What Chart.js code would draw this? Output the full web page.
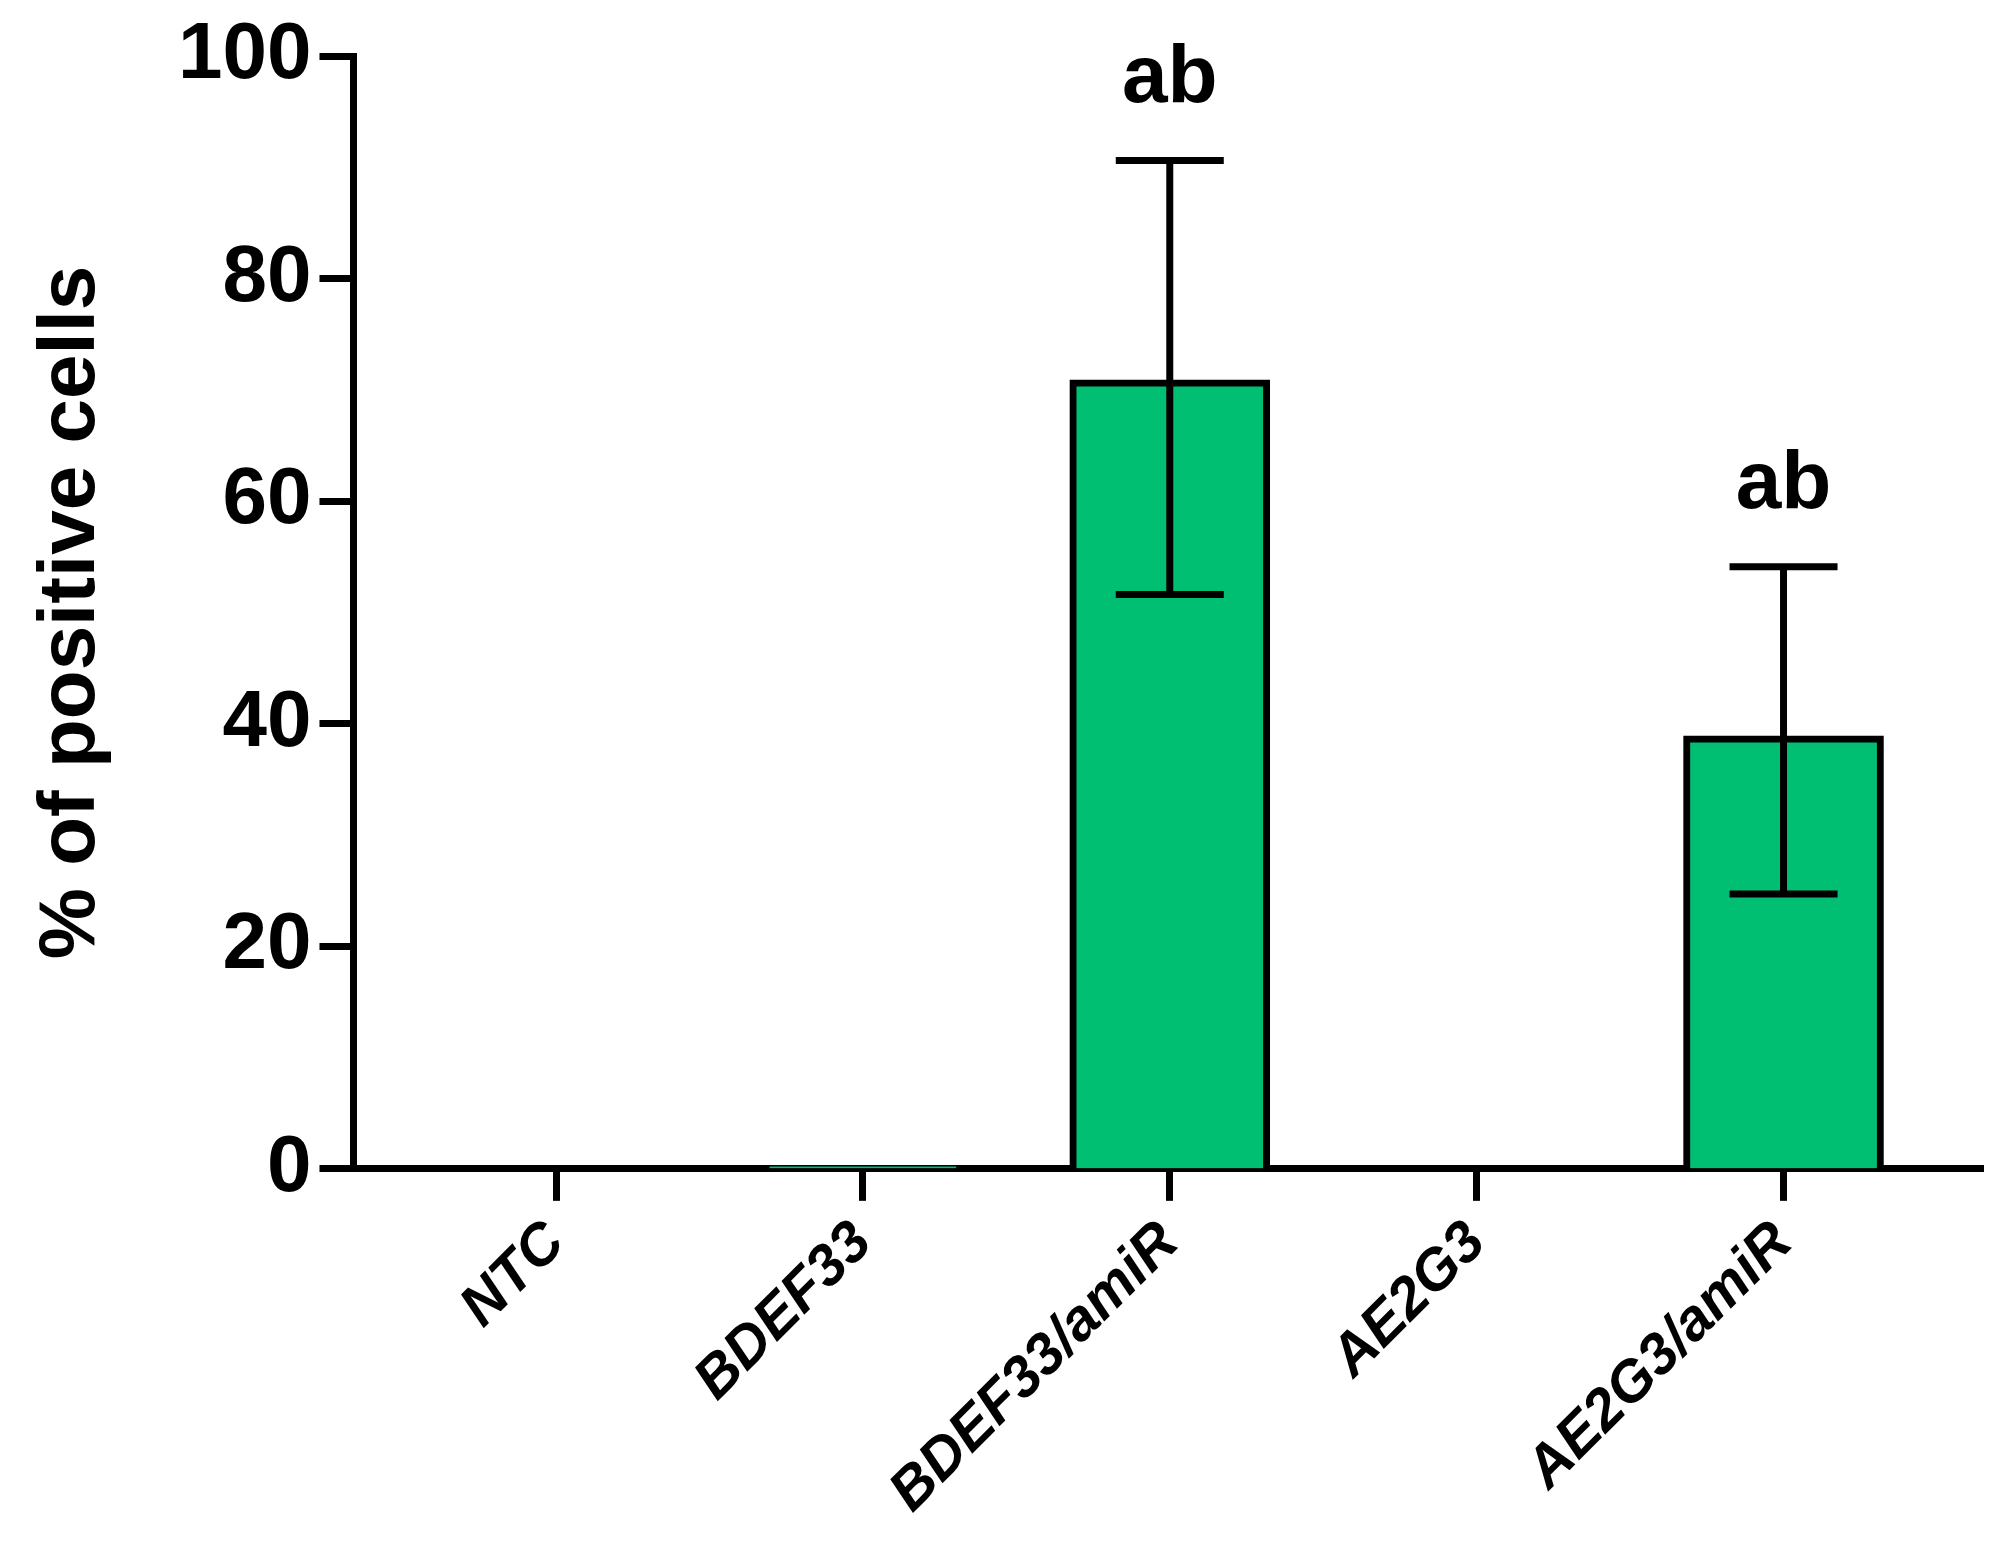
<!DOCTYPE html>
<html>
<head>
<meta charset="utf-8">
<script src="https://cdn.jsdelivr.net/npm/chart.js@4"></script>
<style>
  html, body { margin: 0; padding: 0; background: #fff; }
  #wrap { width: 2007px; height: 1545px; }
</style>
</head>
<body>
<div id="wrap"><canvas id="grafico" width="2007" height="1545"></canvas></div>
<script>
const categories = ["NTC", "BDEF33", "BDEF33/amiR", "AE2G3", "AE2G3/amiR"];
const means = [0, 0.3, 70.9, 0, 38.9];
const errHigh = [null, null, 90.6, null, 54.1];
const errLow = [null, null, 51.6, null, 24.7];
const letters = ["", "", "ab", "", "ab"];
const yTicks = [0, 20, 40, 60, 80, 100];

const fam = "'Liberation Sans Narrow', 'Liberation Sans', Arial, sans-serif";

const errorBars = {
    id: "errorBars",
    afterDatasetsDraw(chart) {
        const c = chart.ctx, xs = chart.scales.x, ys = chart.scales.y;
        c.save();
        c.strokeStyle = "#000";
        c.lineWidth = 7;
        c.fillStyle = "#000";
        c.font = "bold 82px " + fam;
        c.textAlign = "center";
        c.textBaseline = "bottom";
        categories.forEach((cat, i) => {
            if (errHigh[i] === null) return;
            const x = xs.getPixelForValue(i);
            const hi = ys.getPixelForValue(errHigh[i]);
            const lo = ys.getPixelForValue(errLow[i]);
            c.beginPath();
            c.moveTo(x, hi); c.lineTo(x, lo);
            c.moveTo(x - 54, hi); c.lineTo(x + 54, hi);
            c.moveTo(x - 54, lo); c.lineTo(x + 54, lo);
            c.stroke();
            if (letters[i]) c.fillText(letters[i], x, hi - 40);
        });
        c.restore();
    }
};

new Chart(document.getElementById("grafico").getContext("2d"), {
    type: "bar",
    data: {
        datasets: [{
            data: means.map((v, i) => ({ x: i, y: v })),
            backgroundColor: "#00bf72",
            borderColor: "#000",
            borderWidth: 7,
            borderSkipped: "bottom",
            barThickness: 200
        }]
    },
    options: {
        responsive: false,
        animation: false,
        devicePixelRatio: 1,
        layout: { padding: { top: 36, right: 24, left: 20, bottom: 10 } },
        plugins: { legend: { display: false }, tooltip: { enabled: false } },
        scales: {
            x: {
                type: "linear",
                offset: false,
                min: -0.66,
                max: 4.65,
                afterBuildTicks: axis => { axis.ticks = categories.map((_, i) => ({ value: i })); },
                ticks: {
                    callback: v => categories[v],
                    minRotation: 45, maxRotation: 45,
                    color: "#000",
                    font: { family: fam, size: 58, weight: "bold", style: "italic" },
                    padding: 8
                },
                grid: { offset: false, drawOnChartArea: false, tickLength: 32, tickWidth: 7, color: "#000" },
                border: { color: "#000", width: 7 }
            },
            y: {
                min: 0, max: 100,
                afterBuildTicks: axis => { axis.ticks = yTicks.map(v => ({ value: v })); },
                ticks: {
                    color: "#000",
                    font: { family: fam, size: 80, weight: "bold" },
                    padding: 8
                },
                grid: { drawOnChartArea: false, tickLength: 34, tickWidth: 7, color: "#000" },
                border: { color: "#000", width: 7 },
                title: {
                    display: true,
                    text: "% of positive cells",
                    color: "#000",
                    font: { family: "'Liberation Sans', Arial, sans-serif", size: 80, weight: "bold" },
                    padding: { bottom: 50 }
                }
            }
        }
    },
    plugins: [errorBars]
});
</script>
</body>
</html>
